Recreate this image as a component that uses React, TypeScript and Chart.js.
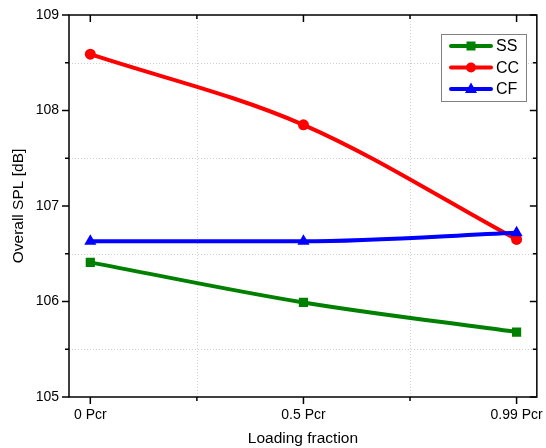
import React, { useEffect, useRef } from "react";
import { Chart, registerables } from "chart.js";

Chart.register(...registerables);

const categories = ["0 Pcr", "0.5 Pcr", "0.99 Pcr"];
const seriesNames = ["SS", "CC", "CF"];
const ssValues = [106.41, 105.99, 105.68];
const ccValues = [108.59, 107.85, 106.65];
const cfValues = [106.63, 106.63, 106.72];
const yTicks = [105, 106, 107, 108, 109];
const colors = ["#008000", "#ff0000", "#0000ff"];
const markers = ["rect", "circle", "triangle"];

const FONT = "'Liberation Sans', Arial, sans-serif";

const framePlugin = {
  id: "frame",
  beforeDatasetsDraw(chart: any) {
    const { ctx, chartArea: a, scales } = chart;
    const x = scales.x, y = scales.y;
    ctx.save();
    ctx.strokeStyle = "#d0d0d0";
    ctx.lineWidth = 1;
    ctx.setLineDash([1, 2]);
    for (let v = 105.5; v < 109; v += 1) {
      const py = Math.round(y.getPixelForValue(v)) + 0.5;
      ctx.beginPath(); ctx.moveTo(a.left, py); ctx.lineTo(a.right, py); ctx.stroke();
    }
    for (let i = 0; i < categories.length - 1; i++) {
      const px = Math.round(x.getPixelForValue(i + 0.5)) + 0.5;
      ctx.beginPath(); ctx.moveTo(px, a.top); ctx.lineTo(px, a.bottom); ctx.stroke();
    }
    ctx.restore();
  },
  afterDatasetsDraw(chart: any) {
    const { ctx, chartArea: a, scales } = chart;
    const x = scales.x, y = scales.y;
    ctx.save();
    ctx.strokeStyle = "#000";
    ctx.lineWidth = 1.5;
    ctx.setLineDash([]);
    ctx.strokeRect(a.left, a.top, a.right - a.left, a.bottom - a.top);
    yTicks.forEach((v) => {
      const py = y.getPixelForValue(v);
      ctx.beginPath(); ctx.moveTo(a.left - 7, py); ctx.lineTo(a.left, py); ctx.stroke();
      ctx.beginPath(); ctx.moveTo(a.right, py); ctx.lineTo(a.right - 7, py); ctx.stroke();
    });
    for (let v = 105.5; v < 109; v += 1) {
      const py = y.getPixelForValue(v);
      ctx.beginPath(); ctx.moveTo(a.left - 4, py); ctx.lineTo(a.left, py); ctx.stroke();
      ctx.beginPath(); ctx.moveTo(a.right, py); ctx.lineTo(a.right - 4, py); ctx.stroke();
    }
    categories.forEach((_, i) => {
      const px = x.getPixelForValue(i);
      ctx.beginPath(); ctx.moveTo(px, a.bottom); ctx.lineTo(px, a.bottom + 7); ctx.stroke();
      ctx.beginPath(); ctx.moveTo(px, a.top); ctx.lineTo(px, a.top + 7); ctx.stroke();
      if (i < categories.length - 1) {
        const pm = x.getPixelForValue(i + 0.5);
        ctx.beginPath(); ctx.moveTo(pm, a.bottom); ctx.lineTo(pm, a.bottom + 4); ctx.stroke();
        ctx.beginPath(); ctx.moveTo(pm, a.top); ctx.lineTo(pm, a.top + 4); ctx.stroke();
      }
    });
    // legend
    const lx = 441, ly = 34, lw = 85, lh = 67;
    ctx.fillStyle = "#fff";
    ctx.fillRect(lx, ly, lw, lh);
    ctx.strokeStyle = "#808080";
    ctx.lineWidth = 1;
    ctx.strokeRect(lx + 0.5, ly + 0.5, lw, lh);
    seriesNames.forEach((name, i) => {
      const cy = ly + 12 + i * 21.5;
      ctx.strokeStyle = colors[i];
      ctx.fillStyle = colors[i];
      ctx.lineWidth = 4;
      ctx.lineCap = "round";
      ctx.beginPath(); ctx.moveTo(451, cy); ctx.lineTo(491, cy); ctx.stroke();
      const mx = 471;
      ctx.beginPath();
      if (markers[i] === "rect") {
        ctx.fillRect(mx - 4.5, cy - 4.5, 9, 9);
      } else if (markers[i] === "circle") {
        ctx.arc(mx, cy, 5, 0, Math.PI * 2); ctx.fill();
      } else {
        ctx.moveTo(mx, cy - 6.5); ctx.lineTo(mx + 6, cy + 4); ctx.lineTo(mx - 6, cy + 4); ctx.closePath(); ctx.fill();
      }
      ctx.fillStyle = "#000";
      ctx.font = `16px ${FONT}`;
      ctx.textAlign = "left";
      ctx.textBaseline = "middle";
      ctx.fillText(name, 496, cy + 1);
    });
    ctx.restore();
  },
};

export default function App() {
  const ref = useRef<HTMLCanvasElement>(null);
  useEffect(() => {
    const all = [ssValues, ccValues, cfValues];
    const chart = new Chart(ref.current!, {
      type: "line",
      data: {
        datasets: all.map((vals, i) => ({
          label: seriesNames[i],
          data: vals.map((v, j) => ({ x: j, y: v })),
          borderColor: colors[i],
          backgroundColor: colors[i],
          borderWidth: 4,
          pointStyle: markers[i] as any,
          pointRadius: markers[i] === "rect" ? 6.5 : markers[i] === "circle" ? 5.5 : 7,
          pointBorderWidth: 0,
          tension: 0.4,
          cubicInterpolationMode: "monotone" as any,
          order: 2 - i,
        })),
      },
      options: {
        animation: false,
        responsive: false,
        layout: { padding: { top: 15, right: 8, left: 0, bottom: 0 } },
        plugins: { legend: { display: false }, tooltip: { enabled: false } },
        scales: {
          x: {
            type: "linear",
            min: -0.1,
            max: 2.095,
            afterBuildTicks: (s: any) => {
              s.ticks = categories.map((_, i) => ({ value: i }));
            },
            afterFit: (s: any) => { s.height = 51; },
            ticks: {
              callback: (v: any) => categories[v] ?? "",
              color: "#000",
              font: { family: FONT, size: 14 },
              padding: 3,
              maxRotation: 0,
              autoSkip: false,
            },
            grid: { color: "transparent", drawTicks: true, tickLength: 7 },
            border: { display: false },
            title: {
              display: true,
              text: "Loading fraction",
              color: "#000",
              font: { family: FONT, size: 15.5 },
              padding: { top: 0, bottom: 0 },
            },
          },
          y: {
            min: 105,
            max: 109,
            afterBuildTicks: (s: any) => {
              s.ticks = yTicks.map((v) => ({ value: v }));
            },
            afterFit: (s: any) => { s.width = 69; },
            ticks: {
              color: "#000",
              font: { family: FONT, size: 14 },
              padding: 3,
            },
            grid: { color: "transparent", drawTicks: true, tickLength: 7 },
            border: { display: false },
            title: {
              display: true,
              text: "Overall SPL [dB]",
              color: "#000",
              font: { family: FONT, size: 15.5 },
              padding: { top: 9, bottom: 0 },
            },
          },
        },
      },
      plugins: [framePlugin],
    });
    return () => chart.destroy();
  }, []);
  return (
    <div style={{ position: "absolute", left: 0, top: 0, width: 546, height: 448, background: "#fff" }}>
      <canvas ref={ref} width={546} height={448} />
    </div>
  );
}
